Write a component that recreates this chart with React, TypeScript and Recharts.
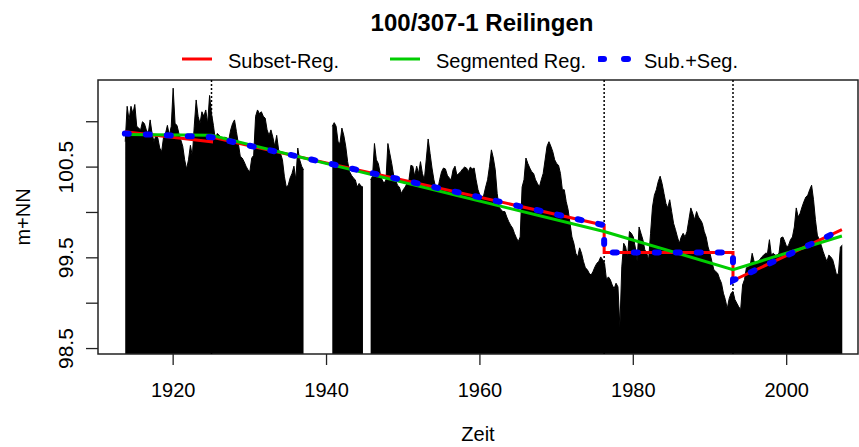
import React from "react";
import {
  ComposedChart,
  Area,
  Line,
  XAxis,
  YAxis,
  ReferenceLine,
  ReferenceArea,
} from "recharts";

const FONT = '"Liberation Sans", Arial, Helvetica, sans-serif';

const chartTitle = "100/307-1 Reilingen";
const xTitle = "Zeit";
const yTitle = "m+NN";

const yearTicks = [1920, 1940, 1960, 1980, 2000];
const levelTicks = [98.5, 99, 99.5, 100, 100.5, 101];
const labeledLevels = [98.5, 99.5, 100.5];
const yearDomain = [1910.2, 2009.3];
const levelDomain = [98.44, 101.46];

// quarterly water levels (m+NN), three runs separated by missing years
const levelsA = [
  100.78,
  101.17, 101.02, 101.17, 101.09,
  101.19, 100.95, 100.93, 100.91,
  101.0, 100.98, 100.91, 100.87,
  101.02, 100.87, 100.78, 100.85,
  100.82, 100.71, 100.67, 100.83,
  100.87, 100.96, 100.85, 100.95,
  101.37, 100.98, 100.96, 100.87,
  100.8, 100.73, 100.58, 100.48,
  100.58, 100.74, 100.62, 100.95,
  101.24, 101.06, 100.98, 101.11,
  101.06, 101.13, 100.98, 101.29,
  101.09, 100.96, 100.8, 100.87,
  100.85, 100.83, 100.82, 100.83,
  100.82, 100.8, 100.91, 100.98,
  101.02, 100.89, 100.76, 100.62,
  100.6, 100.56, 100.51, 100.47,
  100.45, 100.6, 100.63, 101.06,
  101.13, 101.09, 101.11, 101.06,
  101.04, 100.91, 100.85, 100.91,
  100.83, 100.73, 100.85, 100.69,
  100.65, 100.58, 100.4, 100.28,
  100.3, 100.38, 100.43, 100.51,
  100.36, 100.71, 100.58, 100.51,
  100.47,
];
const levelsB = [
  100.95,
  100.99, 100.95, 100.78, 100.76,
  100.93, 100.85, 100.73, 100.56,
  100.45, 100.41, 100.38, 100.36,
  100.28, 100.32, 100.29, 100.28,
];
const levelsC = [
  100.36,
  100.4, 100.76, 100.58, 100.54,
  100.43, 100.36, 100.32, 100.36,
  100.76, 100.65, 100.54, 100.41,
  100.36, 100.3, 100.28, 100.21,
  100.25, 100.28, 100.32, 100.36,
  100.52, 100.51, 100.4, 100.51,
  100.43, 100.56, 100.43, 100.36,
  100.58, 100.81, 100.65, 100.49,
  100.36, 100.27, 100.25, 100.36,
  100.45, 100.49, 100.48, 100.41,
  100.38, 100.36, 100.47, 100.51,
  100.41, 100.43, 100.45, 100.48,
  100.5, 100.49, 100.45, 100.5,
  100.48, 100.49, 100.36, 100.25,
  100.19, 100.17, 100.19, 100.28,
  100.36, 100.51, 100.69, 100.6,
  100.47, 100.21, 100.06, 100.03,
  100.01, 100.01, 99.95, 99.9,
  99.86, 99.83, 99.77, 99.72,
  99.68, 99.73, 100.28, 100.36,
  100.6, 100.54, 100.49, 100.45,
  100.43, 100.36, 100.32, 100.28,
  100.36, 100.43, 100.58, 100.73,
  100.78, 100.73, 100.67, 100.58,
  100.54, 100.52, 100.43, 100.25,
  100.25, 100.12, 100.03, 99.88,
  99.73, 99.66, 99.55, 99.51,
  99.61, 99.55, 99.46, 99.39,
  99.37, 99.33, 99.31, 99.35,
  99.4, 99.44, 99.46, 99.51,
  99.48, 99.44, 99.26, 99.29,
  99.26, 99.2, 99.16, 99.22,
  99.18, 98.74, 99.4, 99.66,
  99.62, 99.51, 99.79, 99.77,
  99.73, 99.62, 99.46, 99.84,
  99.77, 99.7, 99.59, 99.55,
  99.48, 99.77, 100.06, 100.19,
  100.25, 100.34, 100.4, 100.32,
  100.21, 100.1, 100.05, 100.14,
  100.01, 99.88, 99.81, 99.73,
  99.66, 99.73, 99.77, 99.73,
  99.79, 99.92, 100.05, 99.99,
  99.92, 100.01, 99.95, 99.92,
  99.88, 99.79, 99.73, 99.62,
  99.55, 99.46, 99.37, 99.35,
  99.33, 99.27, 99.22, 99.11,
  99.04, 98.94, 99.05, 99.11,
  99.13, 99.04, 99.0, 98.96,
  98.93, 99.2, 99.26, 99.39,
  99.4, 99.42, 99.55, 99.46,
  99.44, 99.46, 99.48, 99.51,
  99.53, 99.55, 99.55, 99.7,
  99.53, 99.55, 99.53, 99.53,
  99.55, 99.72, 99.73, 99.68,
  99.62, 99.64, 99.7, 99.73,
  99.84, 100.05, 99.95, 99.99,
  100.06, 100.12, 100.17, 100.19,
  100.25, 100.3, 100.14, 99.92,
  99.75, 99.7, 99.64, 99.57,
  99.51, 99.46, 99.53, 99.51,
  99.48, 99.4, 99.31, 99.33,
  99.62, 99.64,
];
const runStarts = [1913.75, 1940.75, 1945.75];
const runLevels = [levelsA, levelsB, levelsC];

// fitted trends
const breakYears = [1925, 1976.2, 1993];

const subsetYears = [1913.7, 1925, 1925, 1976.2, 1976.2, 1993, 1993, 2007.2];
const subsetLevels = [100.89, 100.78, 100.83, 99.86, 99.56, 99.56, 99.25, 99.81];

const segYears = [1913.7, 1925, 1976.2, 1993, 2007.2];
const segLevels = [100.86, 100.85, 99.79, 99.37, 99.74];

const combYears = [1913.7, 1925, 1976.2, 1976.2, 1993, 1993, 2007.2];
const combLevels = [100.87, 100.83, 99.86, 99.56, 99.56, 99.25, 99.81];

const zip = (xs: number[], ys: number[]) => xs.map((year, i) => ({ year, level: ys[i] }));

function buildLevelRows() {
  const rows: { year: number; level: number | null }[] = [];
  runStarts.forEach((start, r) => {
    if (r > 0) rows.push({ year: start - 0.125, level: null });
    runLevels[r].forEach((level, i) => rows.push({ year: start + i * 0.25, level }));
  });
  return rows;
}

const levelRows = buildLevelRows();

const series = [
  { name: "Subset-Reg.", color: "#ff0000", dashed: false, data: zip(subsetYears, subsetLevels) },
  { name: "Segmented Reg.", color: "#00cd00", dashed: false, data: zip(segYears, segLevels) },
  { name: "Sub.+Seg.", color: "#0000ff", dashed: true, data: zip(combYears, combLevels) },
];

function LevelTick(props: any) {
  const { x, y, payload } = props;
  if (!labeledLevels.includes(payload.value)) return <g />;
  return (
    <text
      transform={`translate(${x - 13.5},${y}) rotate(-90)`}
      textAnchor="middle"
      fontSize={21}
      fontFamily={FONT}
      fill="#000"
    >
      {String(payload.value)}
    </text>
  );
}

function LegendRow() {
  return (
    <>
      {series.map((s, i) => {
        const left = 182 + i * 208;
        return (
          <div key={s.name} style={{ position: "absolute", left, top: 48, height: 24, width: 200 }}>
            <svg width={40} height={24} style={{ position: "absolute", left: 0, top: 0 }}>
              {s.dashed ? (
                <line x1={18} y1={11} x2={48} y2={11} stroke={s.color} strokeWidth={6}
                  strokeLinecap="round" strokeDasharray="4 20" transform="translate(-16,0)" />
              ) : (
                <line x1={0} y1={11} x2={30} y2={11} stroke={s.color} strokeWidth={3} />
              )}
            </svg>
            <span style={{ position: "absolute", left: 46, top: 3, fontSize: 20, lineHeight: "20px", whiteSpace: "nowrap" }}>
              {s.name}
            </span>
          </div>
        );
      })}
    </>
  );
}

export default function App() {
  return (
    <div style={{ position: "absolute", left: 0, top: 0, width: 859, height: 447, background: "#fff", fontFamily: FONT, color: "#000" }}>
      <div style={{ position: "absolute", left: 0, width: 964, top: 11, fontSize: 24, lineHeight: "24px", fontWeight: "bold", textAlign: "center" }}>
        {chartTitle}
      </div>
      <LegendRow />
      <div
        style={{
          position: "absolute", left: 23, top: 217, fontSize: 20, lineHeight: "20px",
          transform: "translate(-50%, -50%) rotate(-90deg)", whiteSpace: "nowrap",
        }}
      >
        {yTitle}
      </div>
      <div style={{ position: "absolute", left: 0, width: 956, top: 424, fontSize: 20, lineHeight: "20px", textAlign: "center" }}>
        {xTitle}
      </div>

      <ComposedChart width={859} height={447} margin={{ top: 80, right: 1, bottom: 43, left: 38 }} style={{ position: "absolute", left: 0, top: 0 }}>
        <XAxis
          dataKey="year"
          type="number"
          domain={yearDomain}
          allowDataOverflow
          ticks={yearTicks}
          axisLine={false}
          tickSize={11}
          tickMargin={18}
          height={50}
          tickLine={{ stroke: "#222", strokeWidth: 1.3 }}
          tick={{ fill: "#000", fontSize: 20, fontFamily: FONT }}
        />
        <YAxis
          type="number"
          domain={levelDomain}
          allowDataOverflow
          ticks={levelTicks}
          axisLine={false}
          tickSize={12}
          tickMargin={0}
          width={60}
          tickLine={{ stroke: "#222", strokeWidth: 1.3 }}
          tick={(p: any) => <LevelTick {...p} />}
        />
        {breakYears.map((yr) => (
          <ReferenceLine key={yr} x={yr} stroke="#000" strokeWidth={1.5} strokeDasharray="2 2" />
        ))}
        <Area
          data={levelRows}
          dataKey="level"
          type="linear"
          baseValue={levelDomain[0]}
          stroke="#000"
          strokeWidth={1}
          fill="#000"
          fillOpacity={1}
          connectNulls={false}
          dot={false}
          activeDot={false}
          isAnimationActive={false}
        />
        {series.map((s) => (
          <Line
            key={s.name}
            data={s.data}
            dataKey="level"
            type="linear"
            stroke={s.color}
            strokeWidth={s.dashed ? 6 : 3}
            strokeDasharray={s.dashed ? "4 17" : undefined}
            strokeLinecap={s.dashed ? "round" : "butt"}
            dot={false}
            activeDot={false}
            isAnimationActive={false}
          />
        ))}
        <ReferenceArea
          x1={yearDomain[0]}
          x2={yearDomain[1]}
          y1={levelDomain[0]}
          y2={levelDomain[1]}
          fill="#fff"
          fillOpacity={0}
          stroke="#222"
          strokeWidth={1.5}
          ifOverflow="visible"
        />
      </ComposedChart>
    </div>
  );
}
